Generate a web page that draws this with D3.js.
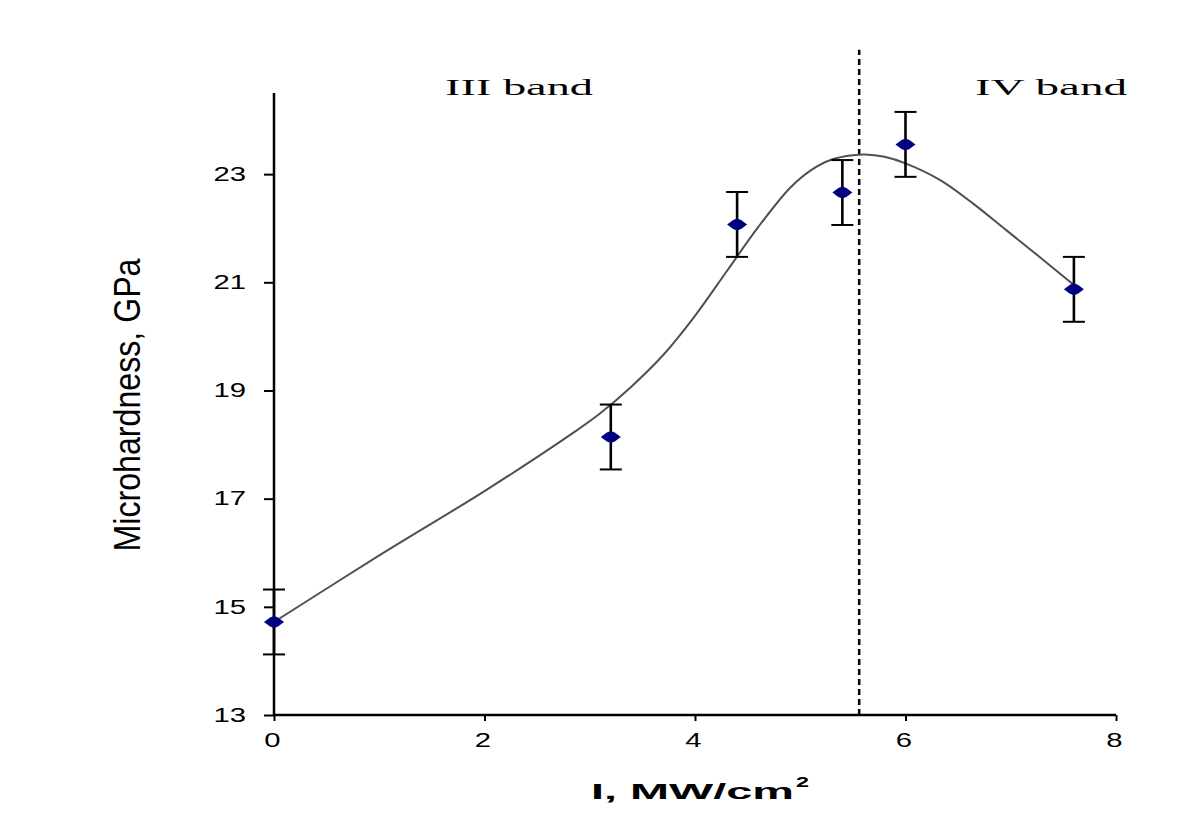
<!DOCTYPE html>
<html><head><meta charset="utf-8">
<script src="https://cdn.jsdelivr.net/npm/d3@7"></script>
<style>body{margin:0;background:#fff}</style>
</head><body>
<svg id="c" width="1200" height="832"></svg>
<script>
// ---- data ----
const pointX = [0, 3.2, 4.4, 5.4, 6.0, 7.6];
const pointY = [14.72, 18.14, 22.07, 22.66, 23.55, 20.87];
const pointErr = [0.6, 0.6, 0.6, 0.6, 0.6, 0.6];
const fitX = [0, 1.0, 2.0, 2.8, 3.1, 3.4, 3.7, 4.0, 4.3, 4.6, 4.9, 5.1, 5.3, 5.5, 5.65, 5.8, 6.0, 6.33, 6.64, 6.96, 7.28, 7.6];
const fitY = [14.72, 15.95, 17.14, 18.16, 18.58, 19.08, 19.66, 20.38, 21.2, 22.02, 22.74, 23.07, 23.27, 23.35, 23.36, 23.32, 23.2, 22.89, 22.46, 21.96, 21.46, 20.95];
const xTicks = [0, 2, 4, 6, 8];
const yTicks = [13, 15, 17, 19, 21, 23];
const bandBoundary = 5.56;
const bandTop = 25.3;
const bandLabels = ["III band", "IV band"];
const xTitle = "I, MW/cm";
const xTitleSup = "2";
const yTitle = "Microhardness, GPa";

// ---- chart ----
const svg = d3.select("#c");
svg.append("rect").attr("width",1200).attr("height",832).attr("fill","#fff");
const x = d3.scaleLinear().domain([0,8]).range([274,1116]);
const y = d3.scaleLinear().domain([13,24.5]).range([715,93]);
const stretch = 1.5;
function widen(sel){
  sel.each(function(){
    const L = this.getComputedTextLength();
    d3.select(this).attr("textLength", L*stretch).attr("lengthAdjust","spacingAndGlyphs");
  });
}

// axes
const gx = svg.append("g").attr("transform",`translate(0,${y(13)})`)
  .call(d3.axisBottom(x).tickValues(xTicks).tickSize(6).tickPadding(10).tickFormat(d3.format("d")));
gx.select(".domain").attr("stroke","#000").attr("stroke-width",2.5).attr("d",`M${x(0)},0H${x(8)}`);
gx.selectAll(".tick line").attr("stroke","#000").attr("stroke-width",2);
gx.selectAll(".tick text").attr("font-family","Liberation Sans, Arial, sans-serif").attr("font-size",19.5).attr("fill","#000").attr("dx",-2).attr("dy","0.8em");
widen(gx.selectAll(".tick text"));

const gy = svg.append("g").attr("transform",`translate(${x(0)},0)`)
  .call(d3.axisLeft(y).tickValues(yTicks).tickSize(10).tickPadding(18).tickFormat(d3.format("d")));
gy.select(".domain").attr("stroke","#000").attr("stroke-width",2.5).attr("d",`M0,${y(13)}V${y(24.5)}`);
gy.selectAll(".tick line").attr("stroke","#000").attr("stroke-width",2);
gy.selectAll(".tick text").attr("font-family","Liberation Sans, Arial, sans-serif").attr("font-size",19.5).attr("fill","#000");
widen(gy.selectAll(".tick text"));

// band boundary
svg.append("line")
  .attr("x1",x(bandBoundary)).attr("x2",x(bandBoundary))
  .attr("y1",y(13)).attr("y2",y(bandTop))
  .attr("stroke","#000").attr("stroke-width",2.5).attr("stroke-dasharray","6,4");

// fitted curve
const fit = fitX.map((d,i)=>[d,fitY[i]]);
svg.append("path").datum(fit)
  .attr("d", d3.line().x(d=>x(d[0])).y(d=>y(d[1])).curve(d3.curveCatmullRom.alpha(0.5)))
  .attr("fill","none").attr("stroke","#505050").attr("stroke-width",2);

// error bars
const pts = pointX.map((d,i)=>({x:d,y:pointY[i],e:pointErr[i]}));
const eb = svg.append("g").selectAll("g").data(pts).join("g");
eb.append("line").attr("x1",d=>x(d.x)).attr("x2",d=>x(d.x)).attr("y1",d=>y(d.y-d.e)).attr("y2",d=>y(d.y+d.e)).attr("stroke","#000").attr("stroke-width",2.6);
eb.append("line").attr("x1",d=>x(d.x)-11).attr("x2",d=>x(d.x)+11).attr("y1",d=>y(d.y+d.e)).attr("y2",d=>y(d.y+d.e)).attr("stroke","#000").attr("stroke-width",2);
eb.append("line").attr("x1",d=>x(d.x)-11).attr("x2",d=>x(d.x)+11).attr("y1",d=>y(d.y-d.e)).attr("y2",d=>y(d.y-d.e)).attr("stroke","#000").attr("stroke-width",2);

// markers
svg.append("g").selectAll("path").data(pts).join("path")
  .attr("transform",d=>`translate(${x(d.x)},${y(d.y)})`)
  .attr("d","M-10,0L-4,-4.5L0,-6L4,-4.5L10,0L4,4.5L0,6L-4,4.5Z")
  .attr("fill","#000080");

// band labels
svg.append("text").attr("x",445).attr("y",95).text(bandLabels[0])
  .attr("font-family","Liberation Serif, Times New Roman, serif").attr("font-size",22.5)
  .attr("textLength",148).attr("lengthAdjust","spacingAndGlyphs");
svg.append("text").attr("x",975).attr("y",95).text(bandLabels[1])
  .attr("font-family","Liberation Serif, Times New Roman, serif").attr("font-size",22.5)
  .attr("textLength",152).attr("lengthAdjust","spacingAndGlyphs");

// axis titles
svg.append("text").attr("x",591).attr("y",799).text(xTitle)
  .attr("font-family","Liberation Sans, Arial, sans-serif").attr("font-weight","bold").attr("font-size",22)
  .attr("textLength",203).attr("lengthAdjust","spacingAndGlyphs");
svg.append("text").attr("x",796).attr("y",787).text(xTitleSup)
  .attr("font-family","Liberation Sans, Arial, sans-serif").attr("font-weight","bold").attr("font-size",14)
  .attr("textLength",13).attr("lengthAdjust","spacingAndGlyphs");
svg.append("text").attr("transform","translate(140,405) rotate(-90)").attr("text-anchor","middle").text(yTitle)
  .attr("font-family","Liberation Sans, Arial, sans-serif").attr("font-size",37.5)
  .attr("textLength",293).attr("lengthAdjust","spacingAndGlyphs");
</script>
</body></html>
